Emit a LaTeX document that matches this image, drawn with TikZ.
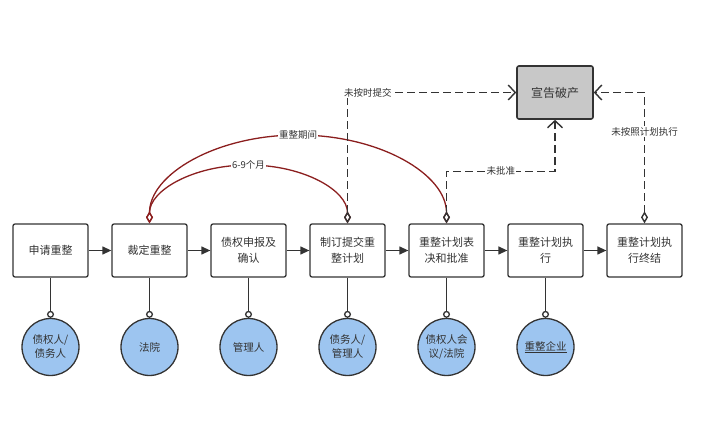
\documentclass[tikz,border=0pt]{standalone}
\usepackage{fontspec}
\setmainfont{Noto Sans CJK SC}
\usetikzlibrary{arrows.meta}
\definecolor{ink}{HTML}{333333}
\definecolor{arcred}{HTML}{8B1E1E}
\definecolor{roleblue}{RGB}{157,197,240}
\definecolor{bkgray}{RGB}{200,200,200}
\begin{document}
\begin{tikzpicture}[x=1pt,y=-1pt,
  stepbox/.style={draw=ink, line width=1.3pt, rounded corners=2pt, fill=white, minimum width=75pt, minimum height=53pt, align=center, text=ink, font=\fontsize{11}{16}\selectfont},
  role/.style={circle, draw=ink, line width=1.3pt, fill=roleblue, minimum size=57pt, inner sep=0pt, align=center, text=ink, font=\fontsize{10.5}{14}\selectfont},
  flow/.style={draw=ink, line width=1.3pt, -{Triangle[length=9pt,width=8pt]}},
  link/.style={draw=ink, line width=1.3pt, -{Circle[open,length=7pt]}},
  jump/.style={draw=ink, line width=1.4pt, dash pattern=on 8pt off 4pt, {Diamond[open,length=12pt,width=7pt]}-{Straight Barb[length=7pt,width=15pt]}},
  period/.style={draw=arcred, line width=1.3pt, {Diamond[open,length=12pt,width=7pt]}-{Diamond[open,length=12pt,width=7pt]}},
  lbl/.style={fill=white, inner sep=1pt, text=ink, font=\fontsize{9.5}{11}\selectfont}]
\useasboundingbox (0,0) rectangle (709,430);
\node[stepbox] (sid0) at (50.5,250.5){申请重整};
\node[stepbox] (sid1) at (149.5,250.5){裁定重整};
\node[stepbox] (sid2) at (248.5,250.5){债权申报及\\确认};
\node[stepbox] (sid3) at (347.5,250.5){制订提交重\\整计划};
\node[stepbox] (sid4) at (446.5,250.5){重整计划表\\决和批准};
\node[stepbox] (sid5) at (545.5,250.5){重整计划执\\行};
\node[stepbox] (sid6) at (644.5,250.5){重整计划执\\行终结};
\node[stepbox, fill=bkgray, line width=1.6pt, minimum width=76pt, font=\fontsize{12}{14}\selectfont] (bk) at (555,92.5){宣告破产};
\draw[flow](sid0) -- (sid1);
\draw[flow](sid1) -- (sid2);
\draw[flow](sid2) -- (sid3);
\draw[flow](sid3) -- (sid4);
\draw[flow](sid4) -- (sid5);
\draw[flow](sid5) -- (sid6);
\node[role] (pid0) at (50.5,347){债权人/\\债务人};
\node[role] (pid1) at (149.5,347){法院};
\node[role] (pid2) at (248.5,347){管理人};
\node[role] (pid3) at (347.5,347){债务人/\\管理人};
\node[role] (pid4) at (446.5,347){债权人会\\议/法院};
\node[role] (pid5) at (545.5,347){\underline{重整企业}};
\draw[link](sid0.south) -- (pid0.north);
\draw[link](sid1.south) -- (pid1.north);
\draw[link](sid2.south) -- (pid2.north);
\draw[link](sid3.south) -- (pid3.north);
\draw[link](sid4.south) -- (pid4.north);
\draw[link](sid5.south) -- (pid5.north);
\coordinate (pk0) at (248.5,165);
\coordinate (pk1) at (298,135);
\draw[period](sid1.north) .. controls +(0,-49) and +(-82,0) .. (pk1) .. controls +(82,0) and +(0,-49) .. (sid4.north);
\draw[period](sid1.north) .. controls +(0,-33) and +(-55,0) .. (pk0) .. controls +(55,0) and +(0,-33) .. (sid3.north);
\node[lbl] (mid0) at (pk0){6-9个月};
\node[lbl] (mid1) at (pk1){重整期间};
\draw[jump](sid3.north) |- node[lbl, pos=0.5, anchor=west, xshift=-5pt]{未按时提交} (bk.west);
\draw[jump](sid4.north) -- ++(0,-52) -| node[lbl, pos=0.25]{未批准} (bk.south);
\draw[jump](sid6.north) |- node[lbl, pos=0.35]{未按照计划执行} (bk.east);
\end{tikzpicture}
\end{document}
